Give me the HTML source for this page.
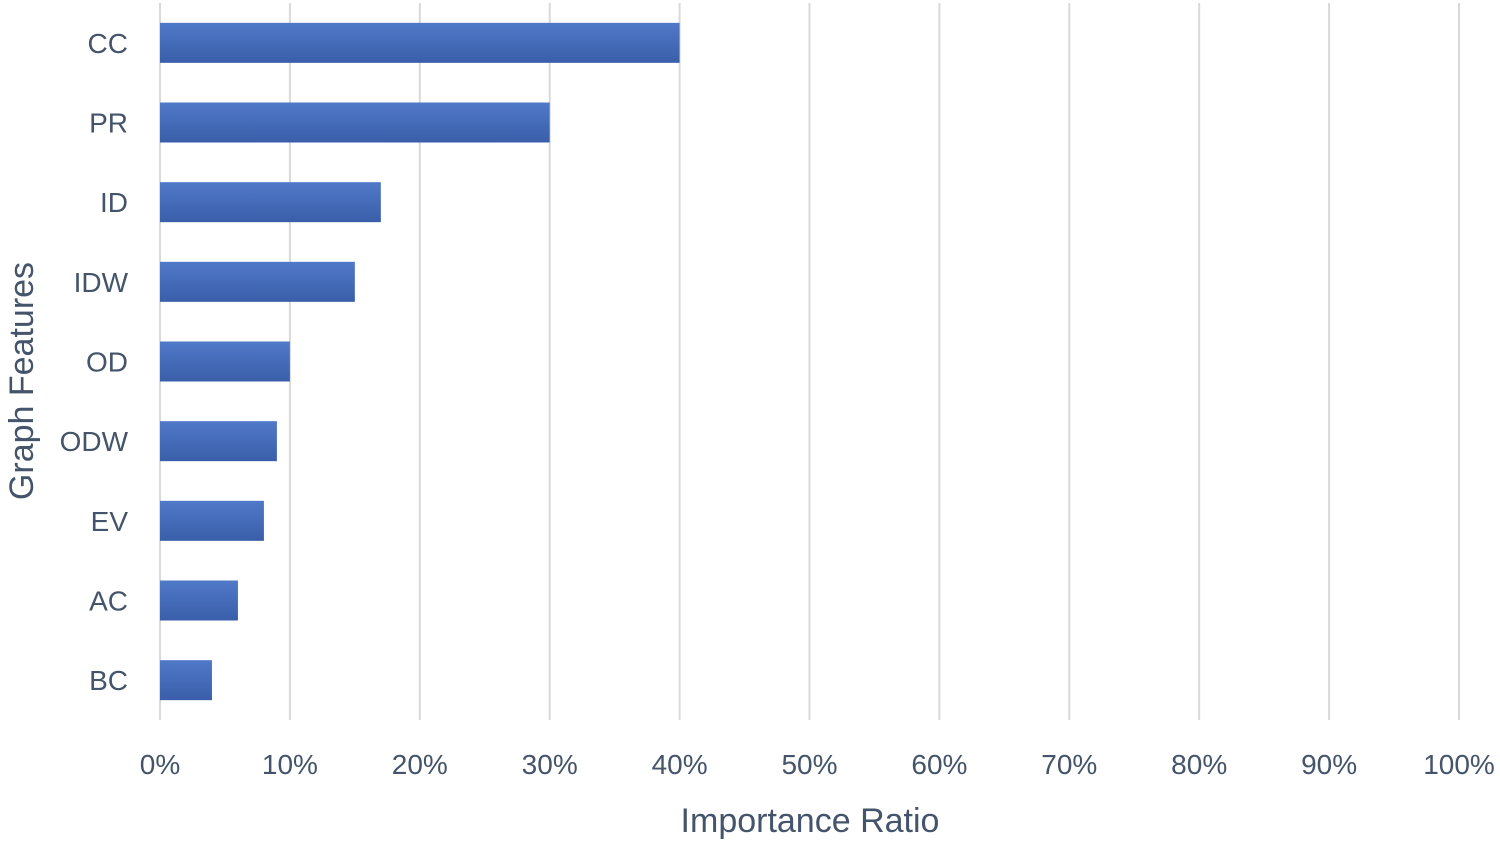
<!DOCTYPE html>
<html><head><meta charset="utf-8"><style>
html,body{margin:0;padding:0;background:#fff;}
svg{display:block;font-family:"Liberation Sans",sans-serif;}
</style></head><body>
<svg id="chart" width="1500" height="844" viewBox="0 0 1500 844">
<defs><linearGradient id="bg" x1="0" y1="0" x2="0" y2="1">
<stop offset="0" stop-color="#5079c9"/><stop offset="1" stop-color="#3a5ea9"/></linearGradient></defs>
<g id="grid"></g><g id="bars"></g><g id="ylab"></g><g id="xlab"></g>
<text x="810" y="832" text-anchor="middle" font-size="34" fill="#44546a">Importance Ratio</text>
<text transform="translate(33,381) rotate(-90)" text-anchor="middle" font-size="34" fill="#44546a">Graph Features</text>
</svg>
<script>
const categories = ["CC","PR","ID","IDW","OD","ODW","EV","AC","BC"];
const values = [40,30,17,15,10,9,8,6,4];
const tickValues = [0,10,20,30,40,50,60,70,80,90,100];
const tickLabels = ["0%","10%","20%","30%","40%","50%","60%","70%","80%","90%","100%"];
const NS="http://www.w3.org/2000/svg";
const x0=160,x1=1459,plotTop=3,plotBottom=720;
const xs=v=>x0+(v/100)*(x1-x0);
const band=(plotBottom-plotTop)/categories.length;
const yc=i=>plotTop+band*(i+0.5);
function mk(t,a,p){const e=document.createElementNS(NS,t);for(const k in a)e.setAttribute(k,a[k]);p.appendChild(e);return e;}
const g=document.getElementById('grid'),b=document.getElementById('bars'),yl=document.getElementById('ylab'),xl=document.getElementById('xlab');
tickValues.forEach((v,i)=>{
 const l=mk('line',{x1:xs(v),x2:xs(v),y1:plotTop,y2:plotBottom,stroke:'#d9d9d9','stroke-width':2},g);
 
 
 const t=mk('text',{x:xs(v),y:774,'text-anchor':'middle','font-size':28,fill:'#44546a'},xl);
 t.textContent=tickLabels[i];
 
 
});
categories.forEach((c,i)=>{
 const r=mk('rect',{x:x0,y:yc(i)-20,width:xs(values[i])-x0,height:40,fill:'url(#bg)'},b);
 
 
 const t=mk('text',{x:128,y:yc(i)+10,'text-anchor':'end','font-size':28,fill:'#44546a'},yl);
 t.textContent=c;
 
 
});
</script>
</body></html>
